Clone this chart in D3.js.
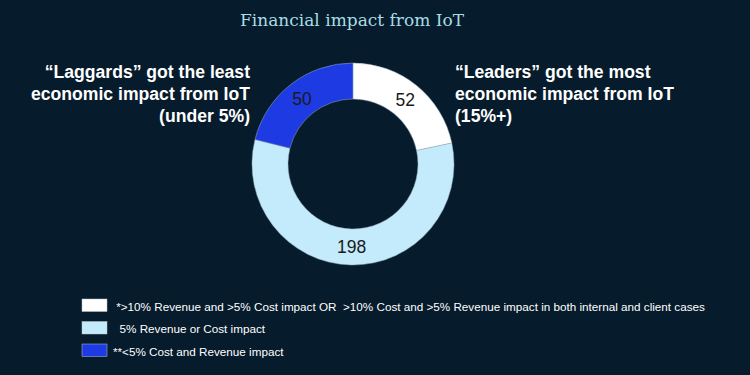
<!DOCTYPE html>
<html>
<head>
<meta charset="utf-8">
<script src="https://cdn.jsdelivr.net/npm/d3@7"></script>
<style>
  html, body { margin: 0; padding: 0; background: #061b2b; }
  #chart { width: 750px; height: 375px; }
  text { font-family: "Liberation Sans", Arial, sans-serif; }
</style>
</head>
<body>
<div id="chart"></div>
<script>
// Financial impact from IoT - donut of company counts by impact group
const groups = ['Leaders', 'Middle', 'Laggards'];
const counts = [52, 198, 50];
// slice sizes as drawn in the source picture (degrees), they don't follow the counts
const sliceShares = [78, 206, 76];
const colors = ['#ffffff', '#c3ebfb', '#1e3be3'];
const legendLabels = [
  ' *>10% Revenue and >5% Cost impact OR  >10% Cost and >5% Revenue impact in both internal and client cases',
  '  5% Revenue or Cost impact',
  '**<5% Cost and Revenue impact'
];
const leftNote = ['\u201cLaggards\u201d got the least', 'economic impact from IoT', '(under 5%)'];
const rightNote = ['\u201cLeaders\u201d got the most', 'economic impact from IoT', '(15%+)'];

const width = 750, height = 375;
const cx = 353, cy = 164;
const outerR = 101, innerR = 65;

const svg = d3.select('#chart').append('svg')
  .attr('width', width)
  .attr('height', height);

svg.append('rect').attr('width', width).attr('height', height).attr('fill', '#061b2b');

// Title
svg.append('text')
  .attr('x', 352).attr('y', 26)
  .attr('text-anchor', 'middle')
  .style('font-family', '"DejaVu Serif", Georgia, serif')
  .style('font-size', '17px')
  .attr('fill', '#a8dde6')
  .text('Financial impact from IoT');

// Donut
const color = d3.scaleOrdinal().domain(groups).range(colors);
const pie = d3.pie().sort(null).value(d => d.share);
const arcs = pie(groups.map((g, i) => ({ key: g, value: counts[i], share: sliceShares[i] })));
const arc = d3.arc().innerRadius(innerR).outerRadius(outerR);
const labelArc = d3.arc().innerRadius(83).outerRadius(83);

const g = svg.append('g').attr('transform', `translate(${cx},${cy})`);
g.selectAll('path')
  .data(arcs)
  .join('path')
    .attr('d', arc)
    .attr('fill', d => color(d.data.key))
    .attr('stroke', '#9fb3c0')
    .attr('stroke-width', 0.5);

g.selectAll('.val')
  .data(arcs)
  .join('text')
    .attr('class', 'val')
    .attr('transform', d => `translate(${labelArc.centroid(d)})`)
    .attr('text-anchor', 'middle')
    .attr('dy', '0.35em')
    .style('font-size', '17.5px')
    .attr('fill', '#1a1a1a')
    .text(d => d.data.value);

// Side annotations
svg.append('text')
  .attr('text-anchor', 'end')
  .style('font-size', '17.6px').style('font-weight', 'bold')
  .attr('fill', '#ffffff')
  .selectAll('tspan')
  .data(leftNote)
  .join('tspan')
    .attr('x', 250)
    .attr('y', (d, i) => 78 + i * 22)
    .text(d => d);

svg.append('text')
  .attr('text-anchor', 'start')
  .style('font-size', '17.6px').style('font-weight', 'bold')
  .attr('fill', '#ffffff')
  .selectAll('tspan')
  .data(rightNote)
  .join('tspan')
    .attr('x', 455)
    .attr('y', (d, i) => 78 + i * 22)
    .text(d => d);

// Legend
const legend = svg.append('g').attr('transform', 'translate(82,299)');
const item = legend.selectAll('g')
  .data(legendLabels)
  .join('g')
    .attr('transform', (d, i) => `translate(0,${i * 22.5})`);
item.append('rect')
  .attr('width', 25).attr('height', 12.5)
  .attr('fill', (d, i) => colors[i])
  .attr('stroke', '#b8c4cc')
  .attr('stroke-width', 0.5);
item.append('text')
  .attr('x', 31).attr('y', 11.7)
  .style('font-size', '11.7px')
  .style('white-space', 'pre')
  .attr('fill', '#ffffff')
  .text(d => d);
</script>
</body>
</html>
